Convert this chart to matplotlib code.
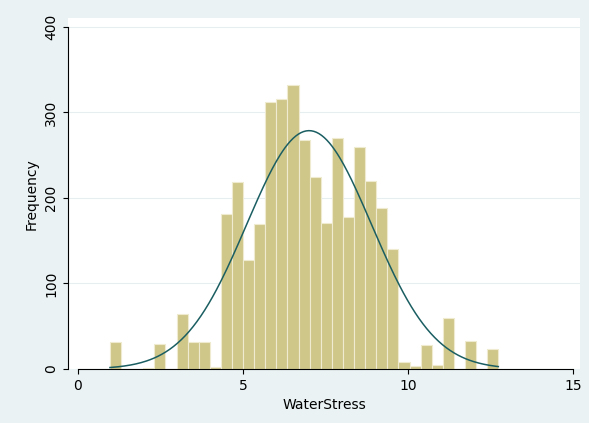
import numpy as np
import matplotlib.pyplot as plt

# histogram of WaterStress, bins
bin_start = 0.97
bin_width = 0.336
counts = [32, 0, 0, 1, 29, 0, 64, 32, 32, 2, 181, 219, 128, 169, 312, 316, 332,
          268, 225, 171, 270, 178, 260, 220, 188, 140, 8, 3, 28, 5, 60, 0, 33, 0, 23]
mean, sd = 7.0, 1.89
x_ticks = [0, 5, 10, 15]
y_ticks = [0, 100, 200, 300, 400]

fig = plt.figure(figsize=(5.89, 4.23), dpi=100, facecolor='#EAF2F3')
ax = fig.add_axes([0.1155, 0.1277, 0.869, 0.829])
ax.set_facecolor('white')

edges = bin_start + bin_width * np.arange(len(counts))
ax.bar(edges, counts, width=bin_width, align='edge', color='#CFC789',
       edgecolor='#EFEBD0', linewidth=0.8, zorder=2)

n = sum(counts)
xs = np.linspace(bin_start, edges[-1] + bin_width, 300)
ys = n * bin_width / (sd * np.sqrt(2 * np.pi)) * np.exp(-0.5 * ((xs - mean) / sd) ** 2)
ax.plot(xs, ys, color='#1B5E62', linewidth=1.1, zorder=3)

ax.set_xlim(-0.3, 15.2)
ax.set_ylim(0, 410)
ax.set_xticks(x_ticks)
ax.set_yticks(y_ticks)
ax.set_yticklabels([str(v) for v in y_ticks], rotation=90, va='center')
ax.grid(axis='y', color='#E6EEF0', linewidth=0.8, zorder=0)
ax.set_axisbelow(True)
for s in ['top', 'right']:
    ax.spines[s].set_visible(False)
ax.spines['left'].set_bounds(0, 400)
ax.spines['bottom'].set_bounds(0, 15)
ax.tick_params(labelsize=10)
ax.set_xlabel('WaterStress', fontsize=10)
ax.set_ylabel('Frequency', fontsize=10)

fig.savefig('out.png', facecolor=fig.get_facecolor())
